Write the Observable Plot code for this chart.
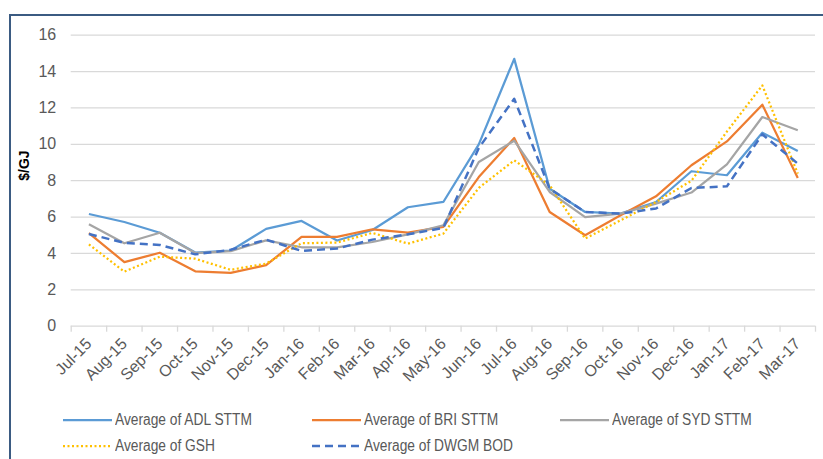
<!DOCTYPE html>
<html>
<head>
<meta charset="utf-8">
<script src="https://cdn.jsdelivr.net/npm/d3@7"></script>
<script src="https://cdn.jsdelivr.net/npm/@observablehq/plot@0.6"></script>
<style>
  html, body { margin: 0; padding: 0; background: #fff; }
  #wrap { position: relative; width: 823px; height: 459px; overflow: hidden; font-family: "Liberation Sans", Arial, sans-serif; }
  #frame { position: absolute; left: 9px; top: 14px; right: -10px; bottom: -10px; border-left: 2px solid #3b5b82; border-top: 2px solid #3b5b82; pointer-events: none; z-index: 2; }
  #chart { position: absolute; left: 0; top: 0; }
  #legend { position: absolute; left: 0; top: 400px; width: 823px; height: 59px; }
  .item { position: absolute; display: flex; align-items: center; height: 20px; font-size: 16px; color: #595959; white-space: nowrap; }
  .item svg { margin-right: 3px; }
  .item span { display: inline-block; transform: scaleX(0.86); transform-origin: left center; }
</style>
</head>
<body>
<div id="wrap">
  <div id="chart"></div>
  <div id="legend"></div>
  <div id="frame"></div>
</div>
<script>
const months = ["Jul-15","Aug-15","Sep-15","Oct-15","Nov-15","Dec-15","Jan-16","Feb-16","Mar-16","Apr-16","May-16","Jun-16","Jul-16","Aug-16","Sep-16","Oct-16","Nov-16","Dec-16","Jan-17","Feb-17","Mar-17"];
const adlSTTM  = [6.17, 5.73, 5.14, 4.05, 4.15, 5.35, 5.79, 4.71, 5.29, 6.54, 6.83, 10.0, 14.7, 7.56, 6.28, 6.19, 6.83, 8.52, 8.3, 10.64, 9.63];
const briSTTM  = [5.12, 3.52, 4.04, 3.02, 2.93, 3.36, 4.91, 4.91, 5.33, 5.15, 5.46, 8.2, 10.35, 6.28, 5.0, 6.1, 7.14, 8.85, 10.16, 12.18, 8.15];
const sydSTTM  = [5.6, 4.56, 5.14, 4.02, 4.13, 4.72, 4.34, 4.33, 4.63, 5.05, 5.55, 9.03, 10.2, 7.38, 6.0, 6.19, 6.74, 7.35, 8.9, 11.5, 10.77];
const gsh      = [4.5, 3.0, 3.82, 3.71, 3.1, 3.44, 4.56, 4.6, 5.13, 4.54, 5.09, 7.6, 9.12, 7.75, 4.82, 5.82, 6.83, 8.0, 10.7, 13.24, 8.39];
const dwgmBOD  = [5.07, 4.58, 4.47, 3.95, 4.2, 4.76, 4.14, 4.27, 4.76, 5.05, 5.4, 9.8, 12.5, 7.56, 6.28, 6.19, 6.47, 7.6, 7.69, 10.55, 8.94];
const seriesNames = ["Average of ADL STTM","Average of BRI STTM","Average of SYD STTM","Average of GSH","Average of DWGM BOD"];
const yTicks = [0, 2, 4, 6, 8, 10, 12, 14, 16];
const yLabel = "$/GJ";

const seriesValues = [adlSTTM, briSTTM, sydSTTM, gsh, dwgmBOD];
const styles = [
  {stroke: "#5b9bd5", strokeWidth: 2.25},
  {stroke: "#ed7d31", strokeWidth: 2.25},
  {stroke: "#a5a5a5", strokeWidth: 2.25},
  {stroke: "#ffc000", strokeWidth: 2.25, strokeDasharray: "2,2.5"},
  {stroke: "#4472c4", strokeWidth: 2.5, strokeDasharray: "8,5"}
];

const idx = months.map((_, i) => i);
const bounds = months.map((_, i) => i - 0.5).concat([months.length - 0.5]);

const lineMarks = seriesValues.map((vals, k) =>
  Plot.line(vals.map((v, i) => ({i, v})), {x: "i", y: "v", ...styles[k], strokeLinejoin: "round", strokeLinecap: "butt"})
);

const chart = Plot.plot({
  width: 823,
  height: 400,
  marginLeft: 70.7,
  marginRight: 8,
  marginTop: 34.7,
  marginBottom: 74.3,
  style: {background: "transparent", fontFamily: "'Liberation Sans', Arial, sans-serif"},
  x: {domain: [-0.5, months.length - 0.5], axis: null},
  y: {domain: [0, 16], axis: null},
  marks: [
    Plot.gridY(yTicks, {stroke: "#d9d9d9", strokeOpacity: 1, strokeWidth: 1.3}),
    Plot.axisY(yTicks, {tickSize: 0, tickPadding: 15, fontSize: 16, color: "#595959", label: null}),
    Plot.axisX(bounds, {tickSize: 6, tickFormat: () => "", stroke: "#d9d9d9", strokeWidth: 1.3, label: null}),
    Plot.axisX(idx, {tickSize: 0, tickPadding: 15, tickRotate: -45, tickFormat: i => months[i], fontSize: 16, color: "#595959", label: null}),
    ...lineMarks,
    Plot.text([yLabel], {text: d => d, frameAnchor: "left", dx: -47, rotate: -90, fontWeight: "bold", fontSize: 14, fill: "#000"})
  ]
});
document.getElementById("chart").appendChild(chart);

// legend
const legendPos = [
  {left: 63, top: 10}, {left: 312, top: 10}, {left: 560, top: 10},
  {left: 63, top: 36}, {left: 312, top: 36}
];
const legend = document.getElementById("legend");
seriesNames.forEach((name, k) => {
  const item = document.createElement("div");
  item.className = "item";
  item.style.left = legendPos[k].left + "px";
  item.style.top = legendPos[k].top + "px";
  const s = styles[k];
  item.innerHTML = `<svg width="49" height="10"><line x1="0" x2="49" y1="5" y2="5" stroke="${s.stroke}" stroke-width="${s.strokeWidth}" ${s.strokeDasharray ? `stroke-dasharray="${s.strokeDasharray}"` : ""}/></svg><span>${name}</span>`;
  legend.appendChild(item);
});
</script>
</body>
</html>
